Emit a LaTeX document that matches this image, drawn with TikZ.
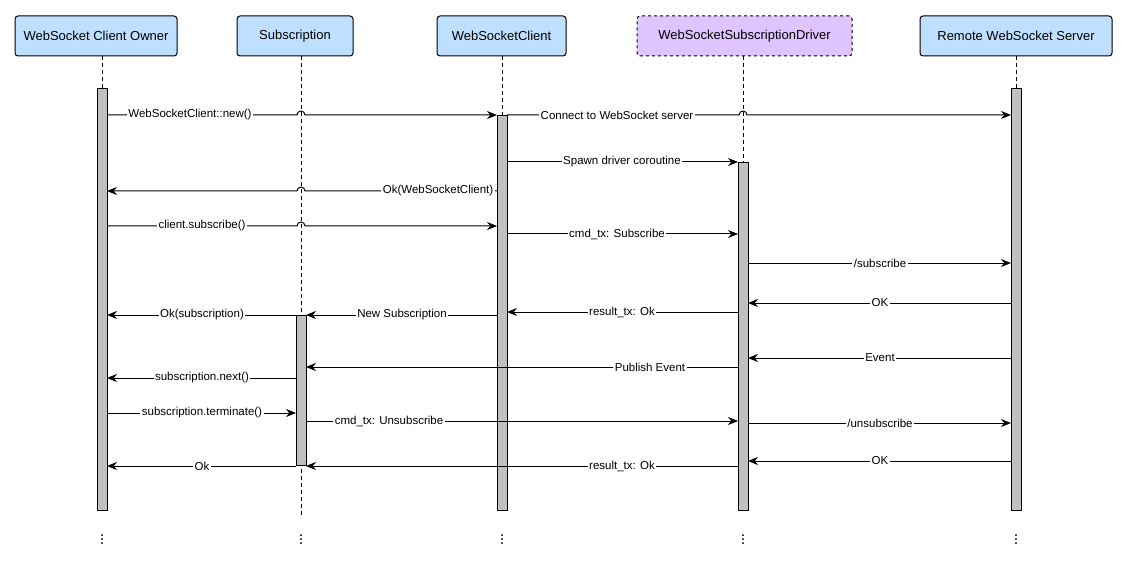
\documentclass[tikz,border=0pt]{standalone}
\usepackage{fontspec}
\setmainfont{Liberation Sans}
\usetikzlibrary{arrows.meta}
\definecolor{hdr}{HTML}{BFDFFF}
\definecolor{drv}{HTML}{E0C4FF}
\definecolor{bar}{HTML}{C0C0C0}
\tikzset{
  every path/.style={line width=1pt},
  head/.style={draw, rounded corners=3pt, fill=hdr, minimum height=40pt, font=\fontsize{13}{15}\selectfont, inner sep=0pt},
  actbar/.style={draw, fill=bar},
  life/.style={dash pattern=on 4pt off 3pt},
  msgline/.style={-{Stealth[length=10pt,width=8pt]}},
  lbl/.style={fill=white, inner sep=1.5pt, font=\fontsize{11.5}{13}\selectfont},
  dots/.style={inner sep=0pt, font=\fontsize{16}{16}\selectfont},
}
\newcommand{\msg}[5]{\draw[msgline] (#2,#1) -- (#3,#1); \node[lbl] at (#5,#1) {#4};}
\begin{document}
\begin{tikzpicture}[x=1pt,y=-1pt]
\useasboundingbox (0,0) rectangle (1127,572);
\node[head, minimum width=162pt] (owner) at (96,36) {WebSocket Client Owner};
\node[head, minimum width=116pt] (sub) at (295,36) {Subscription};
\node[head, minimum width=129pt] (wsc) at (501.5,36) {WebSocketClient};
\node[head, minimum width=215pt, fill=drv, dashed] (drv) at (744.5,36) {WebSocketSubscriptionDriver};
\node[head, minimum width=192pt] (rem) at (1016,36) {Remote WebSocket Server};
% lifelines
\draw[life] (102,56) -- (102,89);
\draw[life] (301,56) -- (301,515);
\draw[life] (502,56) -- (502,116);
\draw[life] (743,56) -- (743,163);
\draw[life] (1016,56) -- (1016,89);
% activation bars
\draw[actbar] (97,89) rectangle (107,510);
\draw[actbar] (497,116) rectangle (507,510);
\draw[actbar] (738,163) rectangle (748,510);
\draw[actbar] (1011,89) rectangle (1021,510);
\draw[actbar] (296,315) rectangle (306,465);
% dots
\foreach \x/\n in {102/d1,301/d2,502/d3,743/d4,1016/d5} \node[dots] (\n) at (\x,537) {$\vdots$};
% messages with hops
\draw[msgline] (107,115) -- (297,115) arc[start angle=180,end angle=360,radius=4] -- (497,115);
\node[lbl] at (190,115) {WebSocketClient::new()};
\draw[msgline] (507,115) -- (739,115) arc[start angle=180,end angle=360,radius=4] -- (1011,115);
\node[lbl] at (617,115) {Connect to WebSocket server};
\msg{162}{507}{738}{Spawn driver coroutine}{622}
\draw[msgline] (497,191) -- (305,191) arc[start angle=0,end angle=-180,radius=4] -- (107,191);
\node[lbl] at (438,191) {Ok(WebSocketClient)};
\draw[msgline] (107,226) -- (297,226) arc[start angle=180,end angle=360,radius=4] -- (497,226);
\node[lbl] at (202,226) {client.subscribe()};
\msg{234}{507}{738}{cmd\_tx: Subscribe}{617}
\msg{263}{748}{1011}{/subscribe}{880}
\msg{303}{1011}{748}{OK}{880}
\msg{312}{738}{507}{result\_tx: Ok}{622}
\msg{315}{497}{306}{New Subscription}{402}
\msg{315}{296}{107}{Ok(subscription)}{202}
\msg{358}{1011}{748}{Event}{880}
\msg{367}{738}{306}{Publish Event}{650}
\msg{378}{296}{107}{subscription.next()}{202}
\msg{413}{107}{296}{subscription.terminate()}{202}
\msg{421}{306}{738}{cmd\_tx: Unsubscribe}{389}
\msg{423}{748}{1011}{/unsubscribe}{880}
\msg{461}{1011}{748}{OK}{880}
\msg{466}{738}{306}{result\_tx: Ok}{622}
\msg{466}{296}{107}{Ok}{202}
\end{tikzpicture}
\end{document}
